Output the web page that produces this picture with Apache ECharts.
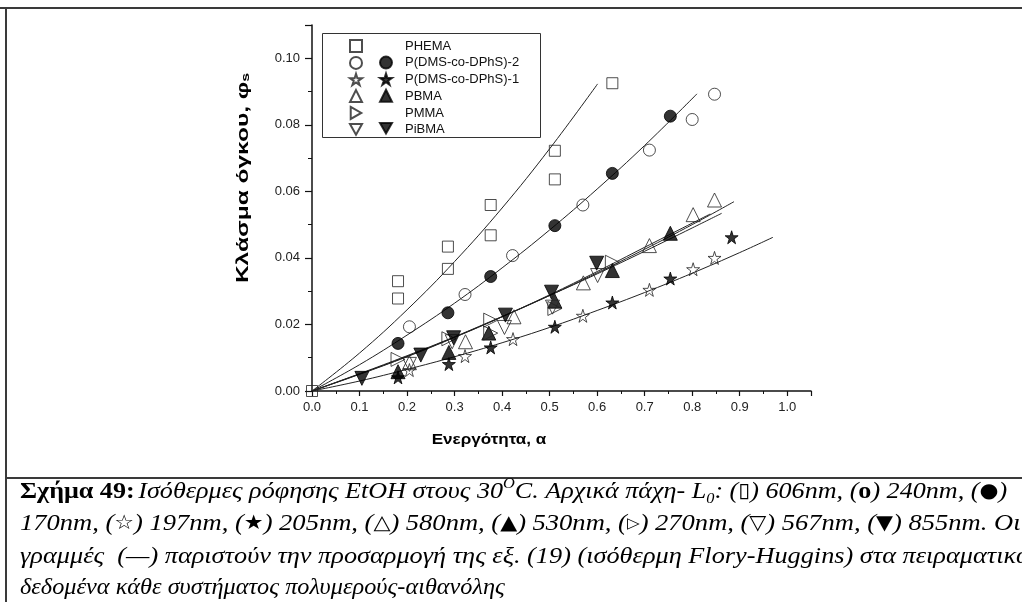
<!DOCTYPE html>
<html><head><meta charset="utf-8">
<script src="https://cdn.jsdelivr.net/npm/echarts@6/dist/echarts.min.js"></script>
<style>html,body{margin:0;padding:0;background:#fff}#c{width:1022px;height:602px}</style>
</head><body><div id="c"></div><script>
// ---- tick labels ----
const xTicks = [0, 0.1, 0.2, 0.3, 0.4, 0.5, 0.6, 0.7, 0.8, 0.9, 1.0];
const yTicks = [0, 0.02, 0.04, 0.06, 0.08, 0.10];

// ---- measured points [activity a, volume fraction phi_s] ----
const phemaOpen = [[0,0],[0.181,0.0330],[0.181,0.0278],[0.286,0.0434],[0.286,0.0367],[0.376,0.0559],[0.376,0.0468],[0.511,0.0722],[0.511,0.0636],[0.632,0.0925]];
const p2Open = [[0.205,0.0193],[0.322,0.0290],[0.422,0.0407],[0.570,0.0559],[0.710,0.0724],[0.800,0.0816],[0.847,0.0892]];
const p2Filled = [[0.181,0.0143],[0.286,0.0235],[0.376,0.0344],[0.511,0.0497],[0.632,0.0654],[0.754,0.0826]];
const p1Open = [[0.205,0.0063],[0.322,0.0105],[0.423,0.0156],[0.570,0.0226],[0.710,0.0304],[0.802,0.0366],[0.847,0.0400]];
const p1Filled = [[0.181,0.0041],[0.288,0.0081],[0.376,0.0131],[0.511,0.0193],[0.632,0.0266],[0.754,0.0338],[0.883,0.0462]];
const pbmaOpen = [[0.205,0.0085],[0.323,0.0148],[0.425,0.0223],[0.571,0.0325],[0.710,0.0437],[0.802,0.0530],[0.847,0.0574]];
const pbmaFilled = [[0.181,0.0058],[0.288,0.0116],[0.372,0.0174],[0.511,0.0270],[0.632,0.0362],[0.754,0.0474]];
const pmmaOpen = [[0.181,0.0095],[0.288,0.0157],[0.376,0.0213],[0.376,0.0174],[0.511,0.0248],[0.632,0.0387]];
const pibmaOpen = [[0.205,0.0080],[0.295,0.0148],[0.405,0.0191],[0.506,0.0252],[0.601,0.0347]];
const pibmaFilled = [[0.105,0.0038],[0.229,0.0108],[0.298,0.0160],[0.407,0.0228],[0.504,0.0297],[0.599,0.0384]];

// ---- Flory-Huggins fit curves ----
const phemaFit = [[0,0],[0.1,0.0114],[0.2,0.0244],[0.3,0.0389],[0.4,0.0550],[0.5,0.0728],[0.601,0.0923]];
const p2Fit = [[0,0],[0.1,0.0079],[0.2,0.0168],[0.3,0.0264],[0.4,0.0370],[0.5,0.0484],[0.6,0.0607],[0.7,0.0738],[0.81,0.0893]];
const p1Fit = [[0,0],[0.1,0.0030],[0.2,0.0065],[0.3,0.0103],[0.4,0.0145],[0.5,0.0191],[0.6,0.0242],[0.7,0.0296],[0.8,0.0354],[0.9,0.0416],[0.97,0.0462]];
const pbmaFit = [[0,0],[0.1,0.0051],[0.2,0.0104],[0.3,0.0162],[0.4,0.0223],[0.5,0.0287],[0.6,0.0355],[0.7,0.0426],[0.8,0.0500],[0.888,0.0569]];
const pibmaFit = [[0,0],[0.1,0.0052],[0.2,0.0106],[0.3,0.0163],[0.4,0.0224],[0.5,0.0287],[0.6,0.0352],[0.7,0.0420],[0.8,0.0490],[0.862,0.0534]];
const pmmaFit = [[0,0],[0.1,0.0050],[0.2,0.0103],[0.3,0.0161],[0.4,0.0223],[0.5,0.0289],[0.6,0.0359],[0.7,0.0432],[0.838,0.0532]];

const names = ['PHEMA','P(DMS-co-DPhS)-2','P(DMS-co-DPhS)-1','PBMA','PMMA','PiBMA'];

const STAR = 'path://M50,0L61,35L98,35L68,57L79,91L50,70L21,91L32,57L2,35L39,35Z';
const TRI_DOWN = 'path://M0,0L100,0L50,88Z';
const TRI_RIGHT = 'path://M0,0L88,50L0,100Z';

const openStyle = {color:'rgba(255,255,255,0)', borderColor:'#222', borderWidth:1};
const filledStyle = {color:'#000', borderColor:'#000', borderWidth:1};

function scatter(name, data, symbol, size, filled){
  return {type:'scatter', name, data, symbol, symbolSize:size, z:3,
    itemStyle: filled ? filledStyle : openStyle, emphasis:{disabled:true}};
}
function fit(data){
  return {type:'line', data, smooth:0.4, showSymbol:false, symbol:'none', silent:true, z:2,
    lineStyle:{color:'#222', width:1}};
}

const series = [
  fit(phemaFit), fit(p2Fit), fit(p1Fit), fit(pbmaFit), fit(pibmaFit), fit(pmmaFit),
  scatter(names[0], phemaOpen, 'rect', 11, false),
  scatter(names[1], p2Open, 'circle', 12, false),
  scatter(names[1]+' ', p2Filled, 'circle', 12, true),
  scatter(names[2], p1Open, STAR, 13, false),
  scatter(names[2]+' ', p1Filled, STAR, 13, true),
  scatter(names[3], pbmaOpen, 'triangle', 14, false),
  scatter(names[3]+' ', pbmaFilled, 'triangle', 14, true),
  scatter(names[4], pmmaOpen, TRI_RIGHT, 14, false),
  scatter(names[5], pibmaOpen, TRI_DOWN, 14, false),
  scatter(names[5]+' ', pibmaFilled, TRI_DOWN, 14, true)
];

const FONT = 'Liberation Sans';
const rowH = 16.6;
const legendCommon = {orient:'vertical', itemWidth:12, itemHeight:12, itemGap:2.9,
  selectedMode:false, padding:0, textStyle:{fontFamily:FONT, fontSize:13, color:'#111', lineHeight:12}};

const chart = echarts.init(document.getElementById('c'), null, {renderer:'canvas'});
chart.setOption({
  backgroundColor:'#fff',
  animation:false,
  grid:{left:312, top:25, right:211, bottom:211, containLabel:false},
  xAxis:{type:'value', min:0, max:1.05, interval:0.1,
    axisLine:{lineStyle:{color:'#111', width:1.5}},
    axisTick:{length:5, lineStyle:{color:'#111', width:1.2}},
    minorTick:{show:true, splitNumber:2, length:3, lineStyle:{color:'#111', width:1}},
    splitLine:{show:false},
    axisLabel:{margin:10, fontFamily:FONT, fontSize:13, color:'#222',
      formatter:v => xTicks.some(t => Math.abs(t-v)<1e-6) ? v.toFixed(1) : ''}},
  yAxis:{type:'value', min:0, max:0.11, interval:0.02,
    axisLine:{show:true, lineStyle:{color:'#111', width:1.5}},
    axisTick:{length:7, lineStyle:{color:'#111', width:1.2}},
    minorTick:{show:true, splitNumber:2, length:4, lineStyle:{color:'#111', width:1}},
    splitLine:{show:false},
    axisLabel:{margin:12, fontFamily:FONT, fontSize:13, color:'#222',
      formatter:v => yTicks.some(t => Math.abs(t-v)<1e-6) ? v.toFixed(2) : ''}},
  legend:[
    Object.assign({}, legendCommon, {left:349, top:39, data:names,
      formatter:n => '{s|}{n|' + n + '}',
      textStyle:Object.assign({}, legendCommon.textStyle, {rich:{s:{width:38, lineHeight:12}, n:{fontFamily:FONT, fontSize:13, color:'#111', lineHeight:12}}})}),
    Object.assign({}, legendCommon, {left:379, top:39+rowH, data:[names[1]+' ', names[2]+' ', names[3]+' '], formatter:()=>''}),
    Object.assign({}, legendCommon, {left:379, top:39+5*rowH, data:[names[5]+' '], formatter:()=>''})
  ],
  series,
  graphic:[
    {type:'rect', shape:{x:322.5, y:33.5, width:218, height:104}, style:{fill:'none', stroke:'#333', lineWidth:1}, z:1},
    {type:'line', shape:{x1:0, y1:8, x2:1022, y2:8}, style:{stroke:'#3a3a3a', lineWidth:2}},
    {type:'line', shape:{x1:6, y1:8, x2:6, y2:602}, style:{stroke:'#3a3a3a', lineWidth:2}},
    {type:'line', shape:{x1:6, y1:478, x2:1022, y2:478}, style:{stroke:'#3a3a3a', lineWidth:2}},
    {type:'text', x:243, y:178, rotation:Math.PI/2, scaleX:1.44, style:{
      text:'{t|Κλάσμα όγκου, φ}{s|s}', textAlign:'center', textVerticalAlign:'middle',
      rich:{t:{fontFamily:FONT, fontSize:17, fill:'#000', fontWeight:'bold'}, s:{fontFamily:FONT, fontSize:11, fill:'#000', fontWeight:'bold', verticalAlign:'bottom'}}}},
    {type:'text', x:489, y:440, scaleX:1.22, style:{text:'Ενεργότητα, α', font:'bold 14px "Liberation Sans"', fill:'#000', textAlign:'center', textVerticalAlign:'middle'}},
    {type:'text', x:20, y:492, scaleX:1.088, style:{textVerticalAlign:'middle',
      text:'{b|Σχήμα 49:} {i|Ισόθερμες ρόφησης EtOH στους 30}{sup|O}{i|C. Αρχικά πάχη- L}{sub|0}{i|: (}{u|▯}{i|) 606nm, (}{ub|o}{i|) 240nm, (}{u|●}{i|)}',
      rich:caption()}},
    {type:'text', x:20, y:524, scaleX:1.105, style:{textVerticalAlign:'middle',
      text:'{i|170nm, (}{u|☆}{i|) 197nm, (}{u|★}{i|) 205nm, (}{u|△}{i|) 580nm, (}{u|▲}{i|) 530nm, (}{us|▷}{i|) 270nm, (}{u|▽}{i|) 567nm, (}{u|▼}{i|) 855nm. Οι}',
      rich:caption()}},
    {type:'text', x:20, y:557, scaleX:1.095, style:{textVerticalAlign:'middle',
      text:'{i|γραμμές  (—) παριστούν την προσαρμογή της εξ. (19) (ισόθερμη Flory-Huggins) στα πειραματικά}',
      rich:caption()}},
    {type:'text', x:20, y:588, scaleX:1.012, style:{textVerticalAlign:'middle',
      text:'{i|δεδομένα κάθε συστήματος πολυμερούς-αιθανόλης}',
      rich:caption()}}
  ]
});
function caption(){
  const f = 'Liberation Serif';
  return {
    b:{fontFamily:f, fontSize:24, fontWeight:'bold', fill:'#000', lineHeight:30},
    i:{fontFamily:f, fontSize:24, fontStyle:'italic', fill:'#000', lineHeight:30},
    u:{fontFamily:'DejaVu Sans', fontSize:20, fill:'#000', lineHeight:30},
    us:{fontFamily:'DejaVu Sans', fontSize:15, fill:'#000', lineHeight:30},
    ub:{fontFamily:f, fontSize:24, fontWeight:'bold', fill:'#000', lineHeight:30},
    sup:{fontFamily:f, fontSize:15, fontStyle:'italic', fill:'#000', verticalAlign:'top', lineHeight:30},
    sub:{fontFamily:f, fontSize:15, fontStyle:'italic', fill:'#000', verticalAlign:'bottom', lineHeight:30}
  };
}
</script></body></html>
